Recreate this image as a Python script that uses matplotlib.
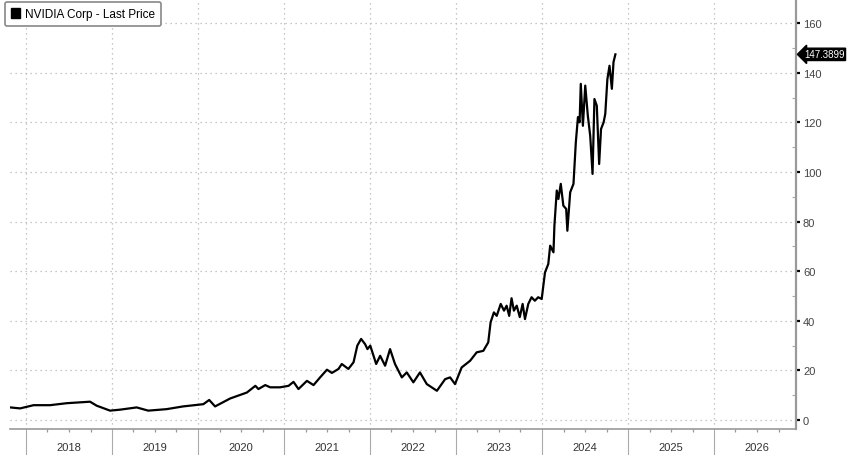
import matplotlib
matplotlib.use("Agg")
import matplotlib.pyplot as plt
import matplotlib.dates as mdates
import matplotlib.transforms as mtransforms
from matplotlib.patches import Patch
import pandas as pd

plt.rcParams['font.family'] = ['Liberation Sans Narrow', 'Liberation Sans', 'DejaVu Sans']

dates = [
    "2017-10-25", "2017-12-06", "2018-02-01", "2018-04-12", "2018-06-22", "2018-09-29",
    "2018-10-27", "2018-12-23", "2019-02-04", "2019-04-15", "2019-06-03", "2019-08-20",
    "2019-10-29", "2020-01-23", "2020-02-17", "2020-03-13", "2020-05-16", "2020-07-26",
    "2020-08-31", "2020-09-13", "2020-10-12", "2020-11-02", "2020-12-14", "2021-01-19",
    "2021-02-09", "2021-03-02", "2021-04-07", "2021-05-05", "2021-06-02", "2021-07-01",
    "2021-07-22", "2021-08-19", "2021-09-02", "2021-09-30", "2021-10-22", "2021-11-07",
    "2021-11-23", "2021-12-10", "2021-12-20", "2022-01-01", "2022-01-26", "2022-02-12",
    "2022-03-05", "2022-03-26", "2022-04-16", "2022-05-15", "2022-06-05", "2022-07-03",
    "2022-07-31", "2022-08-29", "2022-10-11", "2022-11-15", "2022-12-06", "2022-12-27",
    "2023-01-24", "2023-03-01", "2023-03-29", "2023-04-26", "2023-05-17", "2023-05-27",
    "2023-06-10", "2023-06-22", "2023-07-09", "2023-07-23", "2023-08-03", "2023-08-14",
    "2023-08-24", "2023-09-03", "2023-09-15", "2023-09-28", "2023-10-10", "2023-10-20",
    "2023-11-03", "2023-11-17", "2023-12-01", "2023-12-15", "2023-12-30", "2024-01-13",
    "2024-01-27", "2024-02-04", "2024-02-18", "2024-02-22", "2024-03-03", "2024-03-10",
    "2024-03-20", "2024-03-31", "2024-04-12", "2024-04-17", "2024-04-29", "2024-05-13",
    "2024-05-23", "2024-06-01", "2024-06-08", "2024-06-13", "2024-06-22", "2024-07-02",
    "2024-07-13", "2024-07-23", "2024-08-02", "2024-08-10", "2024-08-20", "2024-08-30",
    "2024-09-07", "2024-09-18", "2024-09-25", "2024-10-04", "2024-10-13", "2024-10-23",
    "2024-10-30", "2024-11-07",
]
prices = [
    5.1, 4.7, 6.0, 6.0, 6.8, 7.4,
    5.8, 3.8, 4.2, 5.1, 3.8, 4.4,
    5.5, 6.4, 8.1, 5.5, 8.7, 11.1,
    13.8, 12.5, 14.1, 13.2, 13.2, 13.8,
    15.4, 12.5, 15.8, 14.1, 17.2, 20.3,
    19.0, 20.6, 22.6, 20.6, 23.3, 30.0,
    32.7, 30.6, 28.6, 30.0, 22.6, 25.9,
    21.9, 28.6, 22.6, 17.2, 19.2, 15.2,
    19.2, 14.5, 11.8, 16.5, 17.2, 14.5,
    21.2, 23.9, 27.3, 27.9, 31.3, 39.4,
    43.4, 42.0, 46.8, 44.1, 46.1, 42.0,
    49.1, 44.1, 46.1, 41.5, 46.8, 40.7,
    46.8, 49.5, 48.1, 49.5, 48.8, 59.5,
    62.9, 70.3, 67.6, 78.3, 92.5, 89.1,
    95.2, 86.4, 85.1, 76.3, 91.8, 95.2,
    112.0, 122.1, 120.0, 135.5, 118.6, 134.8,
    122.6, 114.6, 99.2, 129.4, 126.7, 103.2,
    117.3, 120.0, 123.4, 137.4, 142.8, 133.5,
    144.3, 147.39,
]
series_label = "NVIDIA Corp - Last Price"
last_label = "147.3899"
years = list(range(2018, 2027))
yticks = list(range(0, 161, 20))

x = pd.to_datetime(dates)

fig = plt.figure(figsize=(8.48, 4.56), dpi=100)
ax = fig.add_axes([10 / 848, 26 / 456, 786 / 848, 430 / 456])

ax.plot(x, prices, color='black', lw=1.6, zorder=3)

ax.set_xlim(pd.Timestamp("2017-10-24"), pd.Timestamp("2026-12-14"))
ax.set_ylim(-3.6, 169.7)

for s in ['left', 'top']:
    ax.spines[s].set_visible(False)
ax.spines['right'].set_color('#9a9a9a')
ax.spines['right'].set_linewidth(1.6)
ax.spines['bottom'].set_color('#9a9a9a')
ax.spines['bottom'].set_linewidth(1.2)

ax.yaxis.tick_right()
ax.set_yticks(yticks)
ax.set_yticks(list(range(10, 170, 20)), minor=True)
ax.tick_params(axis='y', which='major', direction='out', length=3, width=1.6,
               color='black', labelsize=8, labelcolor='#444444', pad=2)
ax.tick_params(axis='y', which='minor', direction='in', length=3, width=0.8,
               color='#aaaaaa')

ax.xaxis.set_major_locator(mdates.YearLocator())
ax.xaxis.set_minor_locator(mdates.MonthLocator(bymonth=[4, 7, 10]))
ax.tick_params(axis='x', which='major', direction='out', length=19, width=0.8,
               color='#aaaaaa', labelbottom=False)
ax.tick_params(axis='x', which='minor', direction='out', length=2.5, width=0.9,
               color='#999999')

ax.grid(True, which='major', linestyle=(0, (1, 3)), color='#b5b5b5', lw=0.9)

trans = mtransforms.blended_transform_factory(ax.transData, ax.transAxes)
for yr in years:
    ax.text(pd.Timestamp(f"{yr}-07-02"), -0.042, str(yr), transform=trans,
            ha='center', va='center', fontsize=8, color='#333333')

tag_trans = mtransforms.blended_transform_factory(ax.transAxes, ax.transData)
ax.text(1.010, prices[-1], last_label, transform=tag_trans, ha='left', va='center',
        fontsize=7, color='white', clip_on=False,
        bbox=dict(boxstyle='larrow,pad=0.12', fc='black', ec='black'))

leg = ax.legend(handles=[Patch(facecolor='black', edgecolor='black')],
                labels=[series_label], loc='upper left',
                bbox_to_anchor=(5 / 848, 1 - 3 / 456), bbox_transform=fig.transFigure,
                handlelength=0.8, handleheight=1.0, handletextpad=0.4,
                borderpad=0.5, fontsize=8.5, framealpha=1, fancybox=True,
                edgecolor='#888888', borderaxespad=0)
leg.get_frame().set_linewidth(1.2)

fig.savefig("out.png", dpi=100)
